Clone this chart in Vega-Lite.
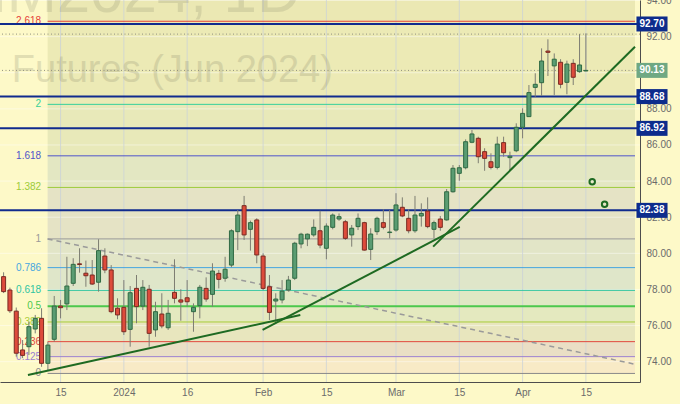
{
"$schema": "https://vega.github.io/schema/vega-lite/v6.json",
"width": 640, "height": 382,
"autosize": "none",
"padding": {"left": 0, "top": 0, "right": 40, "bottom": 22},
"background": "#fdf9c8",
"config": {"view": {"stroke": null}, "font": "Liberation Sans",
  "axis": {"grid": false, "ticks": false, "domainColor": "#4d4d4d", "labelColor": "#6b6b6b", "labelFontSize": 10, "labelOverlap": false}},
"layer": [
{"data": {"values": [
 {"b":"z0","p":73.35,"p2":74.28},{"b":"z1","p":74.28,"p2":75.11},{"b":"z2","p":75.11,"p2":76.2},
 {"b":"z3","p":76.2,"p2":77.075},{"b":"z4","p":77.075,"p2":77.95},{"b":"z5","p":77.95,"p2":79.21},
 {"b":"z6","p":79.21,"p2":80.8},{"b":"z7","p":80.8,"p2":83.65},{"b":"z8","p":83.65,"p2":85.4},
 {"b":"z9","p":85.4,"p2":88.25},{"b":"z10","p":88.25,"p2":92.85},{"b":"z11","p":92.85,"p2":94.03}]},
 "mark": {"type": "rect"},
 "encoding": {
  "x": {"datum": 7.956, "type": "quantitative", "scale": {"domain": [1.222, 100.76], "nice": false, "zero": false},
    "axis": {"values": [10,20,30,42,52,63,73,83,93], "labelExpr": "datum.value==10?'15':datum.value==20?'2024':datum.value==30?'16':datum.value==42?'Feb':datum.value==52?'15':datum.value==63?'Mar':datum.value==73?'15':datum.value==83?'Apr':datum.value==93?'15':''",
      "grid": false, "ticks": false, "domainColor": "#4d4d4d", "labelColor": "#6b6b6b", "labelFontSize": 10, "labelPadding": 5, "labelFlush": false, "labelOverlap": false, "title": null}},
  "x2": {"datum": 100.76},
  "y": {"field": "p", "type": "quantitative", "scale": {"domain": [72.876, 94.028], "nice": false, "zero": false},
    "axis": {"orient": "right", "values": [74,76,78,80,82,84,86,88,92,94], "format": ".2f", "grid": false, "ticks": false, "domainColor": "#4d4d4d", "labelColor": "#6b6b6b", "labelFontSize": 10, "labelPadding": 6, "labelOverlap": false, "title": null}},
  "y2": {"field": "p2"},
  "fill": {"field": "b", "type": "nominal", "legend": null, "scale": {
    "domain": ["z0","z1","z2","z3","z4","z5","z6","z7","z8","z9","z10","z11"],
    "range": ["#f8eac6","#eadfc5","#e8e6be","#e4e9bf","#e0e8c4","#dfe6c9","#e2e5c7","#e5e3c5","#e3e7c2","#e8e9b9","#eceab5","#ebe8b3"]}}
 }},
{"data": {"values": [{"p":74},{"p":76},{"p":78},{"p":80},{"p":82},{"p":84},{"p":86},{"p":88},{"p":90},{"p":92},{"p":94}]},
 "mark": {"type": "rule", "color": "#ffffff", "opacity": 0.45, "strokeWidth": 1},
 "encoding": {"y": {"field": "p", "type": "quantitative", "scale": {"domain": [72.876, 94.028], "nice": false, "zero": false}}}},
{"data": {"values": [{"k":10},{"k":20},{"k":30},{"k":42},{"k":52},{"k":63},{"k":73},{"k":83},{"k":93}]},
 "mark": {"type": "rule", "color": "#c9d2d8", "opacity": 0.75, "strokeWidth": 1},
 "encoding": {"x": {"field": "k", "type": "quantitative", "scale": {"domain": [1.222, 100.76], "nice": false, "zero": false}}}},
{"data": {"values": [{"t": "BRNM2024, 1D"}]},
 "mark": {"type": "text", "align": "right", "baseline": "alphabetic", "fontSize": 60, "color": "#77775f", "opacity": 0.18},
 "encoding": {
  "x": {"datum": 47.88, "type": "quantitative", "scale": {"domain": [1.222, 100.76], "nice": false, "zero": false}},
  "y": {"datum": 93.37, "type": "quantitative", "scale": {"domain": [72.876, 94.028], "nice": false, "zero": false}},
  "text": {"field": "t"}}},
{"data": {"values": [{"t": "Futures (Jun 2024)"}]},
 "mark": {"type": "text", "align": "left", "baseline": "alphabetic", "fontSize": 38, "color": "#77775f", "opacity": 0.2},
 "encoding": {
  "x": {"datum": 2.3, "type": "quantitative", "scale": {"domain": [1.222, 100.76], "nice": false, "zero": false}},
  "y": {"datum": 89.49, "type": "quantitative", "scale": {"domain": [72.876, 94.028], "nice": false, "zero": false}},
  "text": {"field": "t"}}},
{"data": {"name": "fib"},
 "mark": {"type": "rule"},
 "encoding": {
  "x": {"datum": 7.956, "type": "quantitative", "scale": {"domain": [1.222, 100.76], "nice": false, "zero": false}},
  "x2": {"datum": 100.76},
  "y": {"field": "p", "type": "quantitative", "scale": {"domain": [72.876, 94.028], "nice": false, "zero": false}},
  "stroke": {"field": "lv", "type": "nominal", "legend": null, "scale": {
    "domain": ["0","0.125","0.236","0.382","0.5","0.618","0.786","1","1.382","1.618","2","2.618"],
    "range": ["#8a8a8a","#9c7fd1","#e0483e","#a8cc3a","#4cc84c","#2ec4a0","#45a6e0","#9a9a9a","#9ccb3c","#4f55c9","#35d09a","#e5443a"]}},
  "strokeWidth": {"condition": {"test": "datum.lv === '0.5'", "value": 2}, "value": 1}
 }},
{"data": {"name": "fib"},
 "mark": {"type": "text", "align": "right", "baseline": "middle", "fontSize": 10},
 "encoding": {
  "x": {"datum": 6.93, "type": "quantitative", "scale": {"domain": [1.222, 100.76], "nice": false, "zero": false}},
  "y": {"field": "p", "type": "quantitative", "scale": {"domain": [72.876, 94.028], "nice": false, "zero": false}},
  "text": {"field": "lv"},
  "color": {"field": "lv", "type": "nominal", "legend": null, "scale": {
    "domain": ["0","0.125","0.236","0.382","0.5","0.618","0.786","1","1.382","1.618","2","2.618"],
    "range": ["#8a8a8a","#9c7fd1","#e0483e","#a8cc3a","#4cc84c","#2ec4a0","#45a6e0","#9a9a9a","#9ccb3c","#4f55c9","#35d09a","#e5443a"]}}
 }},
{"data": {"values": [{"k": 7.956, "p": 80.8}, {"k": 100.76, "p": 73.86}]},
 "mark": {"type": "line", "color": "#9a9a9a", "strokeWidth": 1.5, "strokeDash": [5, 4]},
 "encoding": {
  "x": {"field": "k", "type": "quantitative", "scale": {"domain": [1.222, 100.76], "nice": false, "zero": false}},
  "y": {"field": "p", "type": "quantitative", "scale": {"domain": [72.876, 94.028], "nice": false, "zero": false}}}},
{"data": {"values": [{"p": 92.14}, {"p": 90.13}]},
 "mark": {"type": "rule", "color": "#8f8f80", "strokeWidth": 1, "strokeDash": [1, 2.5]},
 "encoding": {"y": {"field": "p", "type": "quantitative", "scale": {"domain": [72.876, 94.028], "nice": false, "zero": false}}}},
{"data": {"values": [{"p": 92.7}, {"p": 88.68}, {"p": 86.92}, {"p": 82.38}]},
 "mark": {"type": "rule", "color": "#102b8e", "strokeWidth": 2},
 "encoding": {"y": {"field": "p", "type": "quantitative", "scale": {"domain": [72.876, 94.028], "nice": false, "zero": false}}}},
{"data": {"name": "candles"},
 "mark": {"type": "rule", "color": "#7d7d72", "strokeWidth": 1},
 "encoding": {
  "x": {"field": "k", "type": "quantitative", "scale": {"domain": [1.222, 100.76], "nice": false, "zero": false}},
  "y": {"field": "l", "type": "quantitative", "scale": {"domain": [72.876, 94.028], "nice": false, "zero": false}},
  "y2": {"field": "h"}}},
{"data": {"name": "candles"},
 "mark": {"type": "bar", "width": 4, "strokeWidth": 1},
 "encoding": {
  "x": {"field": "k", "type": "quantitative", "scale": {"domain": [1.222, 100.76], "nice": false, "zero": false}},
  "y": {"field": "o", "type": "quantitative", "scale": {"domain": [72.876, 94.028], "nice": false, "zero": false}},
  "y2": {"field": "c"},
  "fill": {"condition": {"test": "datum.c >= datum.o", "value": "#5a9c72"}, "value": "#dd4b3b"},
  "stroke": {"condition": {"test": "datum.c >= datum.o", "value": "#2f6a43"}, "value": "#7a2a22"}}},
{"data": {"values": [
 {"seg":"a","k":4.846,"p":73.26},{"seg":"a","k":47.88,"p":76.59},
 {"seg":"b","k":41.92,"p":75.76},{"seg":"b","k":73.07,"p":81.46},
 {"seg":"c","k":68.87,"p":80.37},{"seg":"c","k":100.76,"p":91.44}]},
 "mark": {"type": "line", "color": "#1e6a22", "strokeWidth": 2},
 "encoding": {
  "x": {"field": "k", "type": "quantitative", "scale": {"domain": [1.222, 100.76], "nice": false, "zero": false}},
  "y": {"field": "p", "type": "quantitative", "scale": {"domain": [72.876, 94.028], "nice": false, "zero": false}},
  "detail": {"field": "seg"}}},
{"data": {"values": [{"k": 94.0, "p": 83.97}, {"k": 95.96, "p": 82.72}]},
 "mark": {"type": "point", "shape": "circle", "filled": false, "size": 30, "stroke": "#1e6a22", "strokeWidth": 2, "opacity": 1},
 "encoding": {
  "x": {"field": "k", "type": "quantitative", "scale": {"domain": [1.222, 100.76], "nice": false, "zero": false}},
  "y": {"field": "p", "type": "quantitative", "scale": {"domain": [72.876, 94.028], "nice": false, "zero": false}}}},
{"data": {"name": "tags"},
 "mark": {"type": "rule", "strokeWidth": 15, "strokeCap": "butt"},
 "encoding": {
  "x": {"datum": 100.99, "type": "quantitative", "scale": {"domain": [1.222, 100.76], "nice": false, "zero": false}},
  "x2": {"datum": 105.9},
  "y": {"field": "p", "type": "quantitative", "scale": {"domain": [72.876, 94.028], "nice": false, "zero": false}},
  "stroke": {"condition": {"test": "datum.kind === 'g'", "value": "#6fa883"}, "value": "#0d2c8c"}}},
{"data": {"name": "tags"},
 "mark": {"type": "text", "align": "center", "baseline": "middle", "fontSize": 10, "fontWeight": "bold", "color": "#ffffff"},
 "encoding": {
  "x": {"datum": 103.44, "type": "quantitative", "scale": {"domain": [1.222, 100.76], "nice": false, "zero": false}},
  "y": {"field": "p", "type": "quantitative", "scale": {"domain": [72.876, 94.028], "nice": false, "zero": false}},
  "text": {"field": "p", "type": "quantitative", "format": ".2f"}}}
],
"datasets": {
"fib": [
 {"lv":"0","p":73.35},{"lv":"0.125","p":74.28},{"lv":"0.236","p":75.11},{"lv":"0.382","p":76.2},
 {"lv":"0.5","p":77.075},{"lv":"0.618","p":77.95},{"lv":"0.786","p":79.21},{"lv":"1","p":80.8},
 {"lv":"1.382","p":83.65},{"lv":"1.618","p":85.4},{"lv":"2","p":88.25},{"lv":"2.618","p":92.85}],
"tags": [{"p":92.7,"kind":"n"},{"p":90.13,"kind":"g"},{"p":88.68,"kind":"n"},{"p":86.92,"kind":"n"},{"p":82.38,"kind":"n"}],
"candles": [
{"k":1,"o":78.71,"h":78.95,"l":77.8,"c":77.88},
{"k":2,"o":77.97,"h":78.1,"l":76.7,"c":76.82},
{"k":3,"o":76.8,"h":77.0,"l":74.28,"c":74.47},
{"k":4,"o":74.65,"h":75.2,"l":74.2,"c":74.35},
{"k":5,"o":74.83,"h":76.21,"l":74.37,"c":75.94},
{"k":6,"o":75.81,"h":76.59,"l":75.57,"c":76.4},
{"k":7,"o":76.4,"h":76.96,"l":73.72,"c":73.91},
{"k":8,"o":73.91,"h":75.1,"l":73.5,"c":74.92},
{"k":9,"o":75.24,"h":77.64,"l":75.11,"c":77.08},
{"k":10,"o":77.08,"h":77.42,"l":76.4,"c":76.99},
{"k":11,"o":77.2,"h":79.81,"l":76.86,"c":78.19},
{"k":12,"o":78.34,"h":79.73,"l":78.19,"c":79.39},
{"k":13,"o":79.42,"h":80.28,"l":78.93,"c":79.38},
{"k":14,"o":78.9,"h":79.6,"l":78.15,"c":78.76},
{"k":15,"o":78.8,"h":79.63,"l":78.25,"c":78.3},
{"k":16,"o":78.4,"h":80.78,"l":77.88,"c":80.15},
{"k":17,"o":79.85,"h":80.28,"l":78.9,"c":79.08},
{"k":18,"o":79.08,"h":79.35,"l":76.68,"c":76.77},
{"k":19,"o":76.96,"h":77.51,"l":76.35,"c":76.59},
{"k":20,"o":77.01,"h":78.52,"l":75.48,"c":75.66},
{"k":21,"o":75.79,"h":78.19,"l":74.83,"c":77.82},
{"k":22,"o":78.06,"h":78.8,"l":76.13,"c":77.05},
{"k":23,"o":77.08,"h":78.52,"l":76.86,"c":78.12},
{"k":24,"o":78.01,"h":78.25,"l":74.83,"c":75.57},
{"k":25,"o":75.76,"h":77.32,"l":75.38,"c":76.77},
{"k":26,"o":76.64,"h":77.79,"l":75.85,"c":75.98},
{"k":27,"o":75.88,"h":77.42,"l":75.76,"c":76.68},
{"k":28,"o":77.84,"h":79.67,"l":77.23,"c":77.51},
{"k":29,"o":77.42,"h":78.01,"l":76.27,"c":77.3},
{"k":30,"o":77.54,"h":78.52,"l":77.05,"c":77.32},
{"k":31,"o":76.77,"h":77.23,"l":75.66,"c":77.01},
{"k":32,"o":77.1,"h":78.25,"l":76.4,"c":78.12},
{"k":33,"o":78.06,"h":78.67,"l":77.32,"c":77.47},
{"k":34,"o":77.73,"h":79.45,"l":77.05,"c":79.02},
{"k":35,"o":78.89,"h":79.08,"l":78.06,"c":78.56},
{"k":36,"o":78.62,"h":79.81,"l":78.43,"c":79.12},
{"k":37,"o":79.35,"h":81.33,"l":79.23,"c":81.25},
{"k":38,"o":81.2,"h":82.4,"l":80.18,"c":82.12},
{"k":39,"o":82.64,"h":83.18,"l":80.74,"c":81.02},
{"k":40,"o":81.33,"h":81.81,"l":80.15,"c":81.7},
{"k":41,"o":81.85,"h":81.94,"l":79.45,"c":79.91},
{"k":42,"o":79.85,"h":80.0,"l":77.97,"c":78.06},
{"k":43,"o":78.15,"h":78.8,"l":76.31,"c":76.73},
{"k":44,"o":77.36,"h":77.79,"l":76.13,"c":77.47},
{"k":45,"o":77.42,"h":78.52,"l":77.23,"c":77.91},
{"k":46,"o":77.97,"h":78.75,"l":77.88,"c":78.52},
{"k":47,"o":78.62,"h":80.64,"l":78.52,"c":80.56},
{"k":48,"o":80.52,"h":81.14,"l":80.28,"c":81.06},
{"k":49,"o":80.8,"h":81.1,"l":80.4,"c":81.06},
{"k":50,"o":81.02,"h":81.88,"l":80.92,"c":81.44},
{"k":51,"o":81.25,"h":82.36,"l":80.28,"c":80.46},
{"k":52,"o":80.28,"h":81.66,"l":79.67,"c":81.51},
{"k":53,"o":81.44,"h":82.21,"l":81.33,"c":82.12},
{"k":54,"o":81.9,"h":82.21,"l":81.8,"c":82.03},
{"k":55,"o":81.75,"h":81.85,"l":80.74,"c":80.83},
{"k":56,"o":81.02,"h":81.57,"l":80.37,"c":81.39},
{"k":57,"o":81.48,"h":82.21,"l":81.29,"c":81.94},
{"k":58,"o":81.7,"h":81.75,"l":80.15,"c":80.18},
{"k":59,"o":80.22,"h":81.39,"l":79.63,"c":81.07},
{"k":60,"o":81.2,"h":82.03,"l":81.02,"c":81.94},
{"k":61,"o":81.7,"h":82.44,"l":81.33,"c":81.44},
{"k":62,"o":81.15,"h":82.4,"l":80.83,"c":81.18},
{"k":63,"o":81.29,"h":83.33,"l":81.2,"c":82.68},
{"k":64,"o":82.55,"h":83.1,"l":82.0,"c":82.07},
{"k":65,"o":81.94,"h":82.44,"l":81.11,"c":81.25},
{"k":66,"o":81.25,"h":83.18,"l":81.14,"c":82.12},
{"k":67,"o":82.07,"h":82.77,"l":81.48,"c":82.21},
{"k":68,"o":82.34,"h":83.1,"l":81.39,"c":81.48},
{"k":69,"o":81.33,"h":81.81,"l":80.83,"c":81.7},
{"k":70,"o":81.9,"h":82.07,"l":81.25,"c":81.44},
{"k":71,"o":81.85,"h":83.56,"l":81.81,"c":83.41},
{"k":72,"o":83.41,"h":84.89,"l":83.36,"c":84.71},
{"k":73,"o":84.43,"h":84.89,"l":84.02,"c":84.74},
{"k":74,"o":84.74,"h":86.31,"l":84.65,"c":86.18},
{"k":75,"o":86.15,"h":86.83,"l":86.1,"c":86.61},
{"k":76,"o":86.37,"h":86.46,"l":84.99,"c":85.35},
{"k":77,"o":85.63,"h":85.82,"l":84.57,"c":85.26},
{"k":78,"o":85.07,"h":85.54,"l":84.65,"c":84.76},
{"k":79,"o":84.76,"h":86.46,"l":84.65,"c":86.05},
{"k":80,"o":86.13,"h":86.46,"l":85.35,"c":85.57},
{"k":81,"o":85.3,"h":85.63,"l":84.57,"c":85.38},
{"k":82,"o":85.68,"h":87.2,"l":85.6,"c":86.98},
{"k":83,"o":86.98,"h":88.03,"l":86.37,"c":87.75},
{"k":84,"o":87.57,"h":89.32,"l":87.57,"c":88.9},
{"k":85,"o":89.19,"h":89.97,"l":88.67,"c":89.36},
{"k":86,"o":89.45,"h":91.35,"l":88.71,"c":90.65},
{"k":87,"o":91.2,"h":91.85,"l":89.82,"c":91.13},
{"k":88,"o":90.38,"h":91.07,"l":88.77,"c":90.75},
{"k":89,"o":90.58,"h":90.75,"l":89.14,"c":89.36},
{"k":90,"o":89.47,"h":90.67,"l":88.81,"c":90.48},
{"k":91,"o":90.52,"h":90.75,"l":89.32,"c":89.75},
{"k":92,"o":90.06,"h":92.14,"l":90.0,"c":90.43},
{"k":93,"o":90.1,"h":92.18,"l":90.08,"c":90.13}
]}
}
